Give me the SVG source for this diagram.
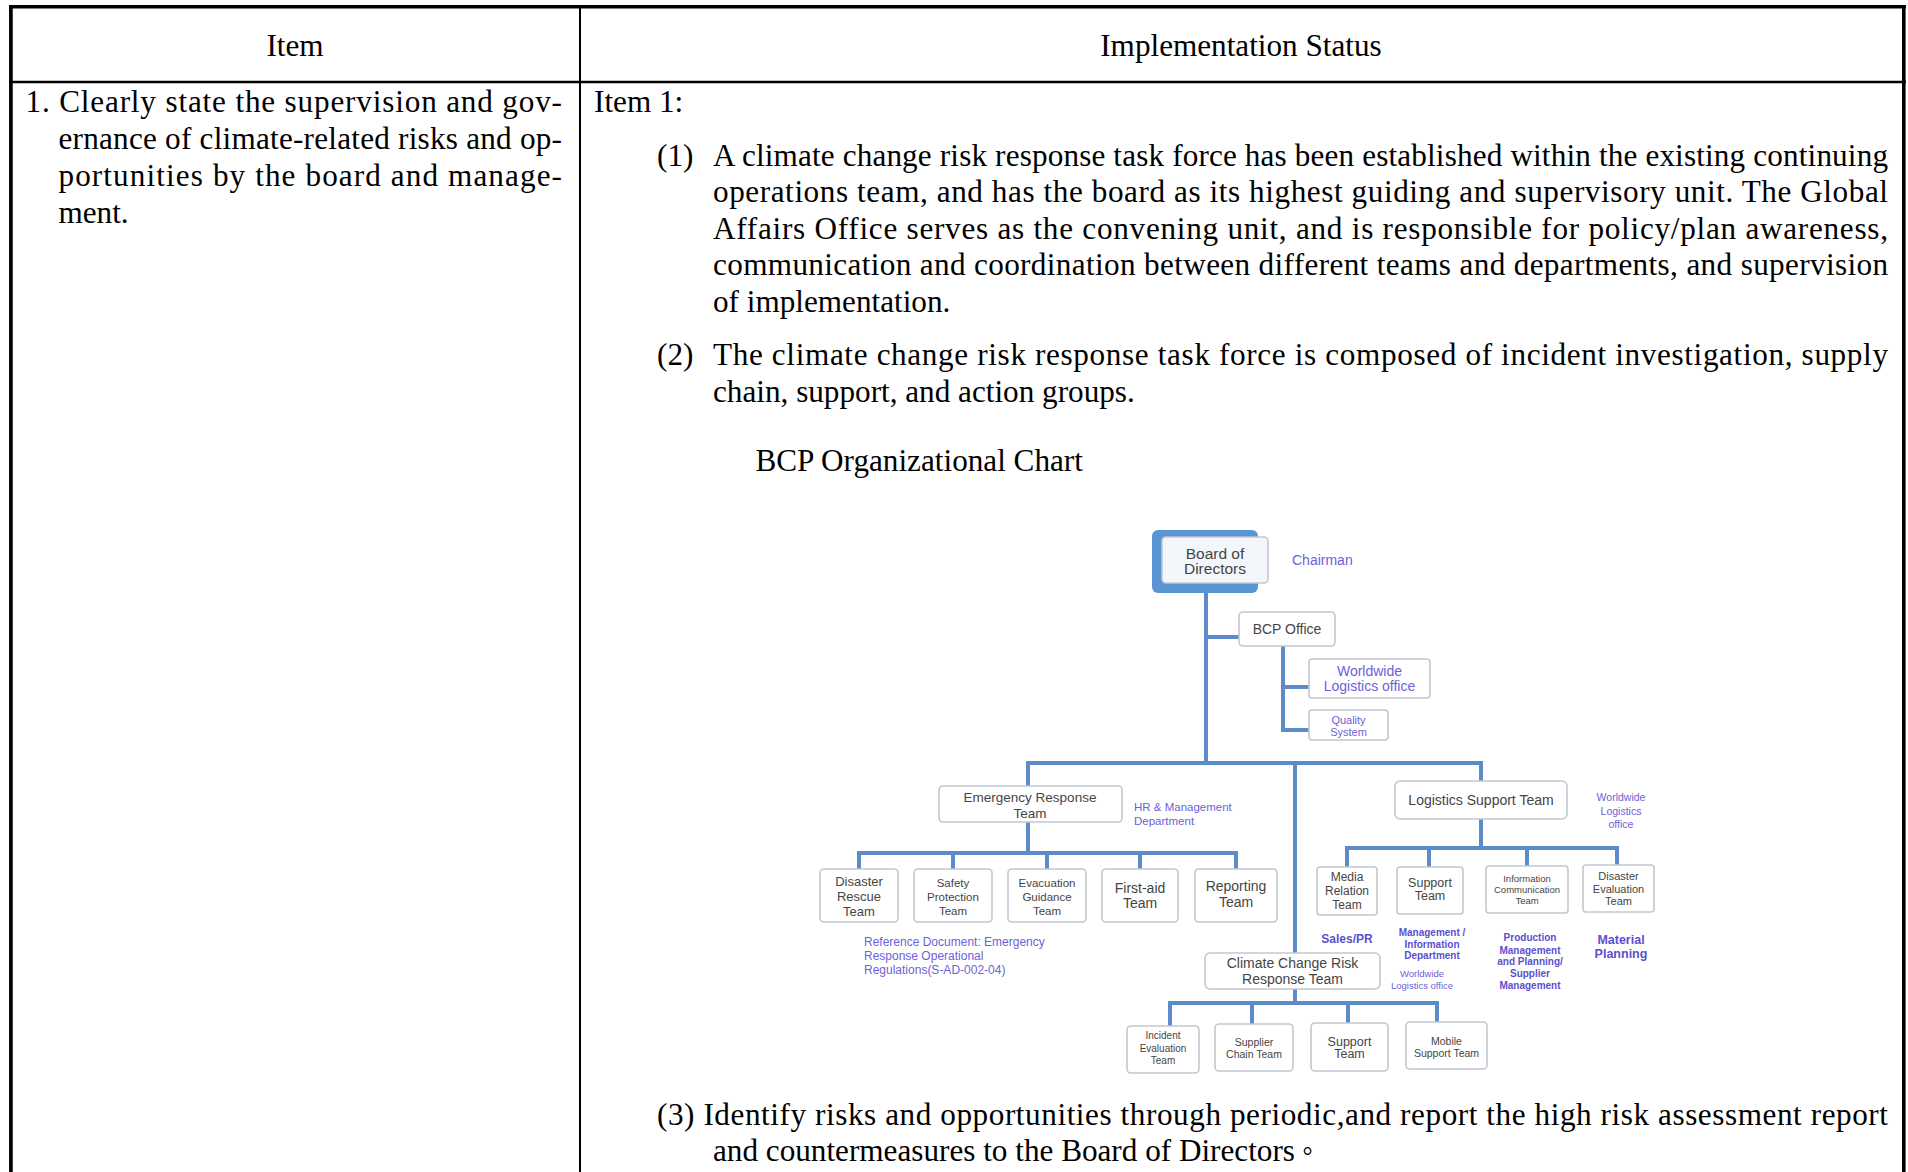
<svg xmlns="http://www.w3.org/2000/svg" width="1908" height="1172" viewBox="0 0 1908 1172">
  <style>
    .body { font-family: "Liberation Serif", "Times New Roman", serif; font-size: 32.5px; fill: #000; }
    .rule { stroke: #000; fill: none; }
    .box { fill: #ffffff; stroke: #c3c8cf; stroke-width: 1.6; }
    .lbl { font-family: "Liberation Sans", Arial, sans-serif; fill: #454545; text-anchor: middle; dominant-baseline: central; }
    .note { font-family: "Liberation Sans", Arial, sans-serif; fill: #6d5fd8; dominant-baseline: central; }
    .noteb { font-family: "Liberation Sans", Arial, sans-serif; fill: #5b4fd0; font-weight: bold; text-anchor: middle; dominant-baseline: central; }
    .link { stroke: #5b8cc9; stroke-width: 4; fill: none; stroke-linecap: butt; }
  </style>

  <rect x="0" y="0" width="1908" height="1172" fill="#ffffff"/>

  <!-- table frame -->
  <g id="table-frame">
    <line class="rule" x1="9" y1="6.8" x2="1906" y2="6.8" stroke-width="3.6"/>
    <line class="rule" x1="10.9" y1="5" x2="10.9" y2="1172" stroke-width="3.7"/>
    <line class="rule" x1="1903.8" y1="5" x2="1903.8" y2="1172" stroke-width="3.6"/>
    <line class="rule" x1="9" y1="82" x2="1906" y2="82" stroke-width="2.4"/>
    <line class="rule" x1="580" y1="6" x2="580" y2="1172" stroke-width="2"/>
  </g>

  <!-- body text is set slightly condensed: x values are divided by 0.96 -->
  <g transform="scale(0.96 1)">
    <g id="header">
      <text class="body" x="307.29" y="56" text-anchor="middle">Item</text>
      <text class="body" x="1292.71" y="56" text-anchor="middle">Implementation Status</text>
    </g>

    <g id="item-column">
      <text class="body" x="26.56" y="112" textLength="558.85" lengthAdjust="spacing">1. Clearly state the supervision and gov-</text>
      <text class="body" x="60.94" y="149" textLength="524.48" lengthAdjust="spacing">ernance of climate-related risks and op-</text>
      <text class="body" x="60.94" y="186" textLength="524.48" lengthAdjust="spacing">portunities by the board and manage-</text>
      <text class="body" x="60.94" y="223">ment.</text>
    </g>

    <g id="status-column">
      <text class="body" x="618.75" y="112">Item 1:</text>

      <text class="body" x="684.38" y="166">(1)</text>
      <text class="body" x="742.71" y="166" textLength="1223.96" lengthAdjust="spacing">A climate change risk response task force has been established within the existing continuing</text>
      <text class="body" x="742.71" y="202" textLength="1223.96" lengthAdjust="spacing">operations team, and has the board as its highest guiding and supervisory unit. The Global</text>
      <text class="body" x="742.71" y="239" textLength="1223.96" lengthAdjust="spacing">Affairs Office serves as the convening unit, and is responsible for policy/plan awareness,</text>
      <text class="body" x="742.71" y="275" textLength="1223.96" lengthAdjust="spacing">communication and coordination between different teams and departments, and supervision</text>
      <text class="body" x="742.71" y="312">of implementation.</text>

      <text class="body" x="684.38" y="365">(2)</text>
      <text class="body" x="742.71" y="365" textLength="1223.96" lengthAdjust="spacing">The climate change risk response task force is composed of incident investigation, supply</text>
      <text class="body" x="742.71" y="402">chain, support, and action groups.</text>

      <text class="body" x="786.98" y="471">BCP Organizational Chart</text>

      <text class="body" x="684.38" y="1125" textLength="1282.29" lengthAdjust="spacing">(3) Identify risks and opportunities through periodic,and report the high risk assessment report</text>
      <text class="body" x="742.71" y="1161">and countermeasures to the Board of Directors<tspan font-family="'Noto Sans CJK TC', sans-serif" font-size="26">。</tspan></text>
    </g>
  </g>

  <!-- connectors -->
  <g id="connectors">
    <path class="link" d="M1206,592 V765"/>
    <path class="link" d="M1206,637 H1239"/>
    <path class="link" d="M1283,646 V732"/>
    <path class="link" d="M1281,687 H1309"/>
    <path class="link" d="M1281,730 H1309"/>
    <path class="link" d="M1026,763 H1483"/>
    <path class="link" d="M1028,761 V786"/>
    <path class="link" d="M1481,761 V781"/>
    <path class="link" d="M1295,761 V953"/>

    <path class="link" d="M1028,821 V853"/>
    <path class="link" d="M857,853 H1238"/>
    <path class="link" d="M859,851 V869 M953,851 V869 M1047,851 V869 M1140,851 V869 M1236,851 V869"/>

    <path class="link" d="M1481,819 V848"/>
    <path class="link" d="M1345,848 H1619"/>
    <path class="link" d="M1347,846 V867 M1429,846 V867 M1527,846 V866 M1617,846 V865"/>

    <path class="link" d="M1295,989 V1003"/>
    <path class="link" d="M1168,1003 H1439"/>
    <path class="link" d="M1170,1001 V1026 M1252,1001 V1024 M1348,1001 V1023 M1437,1001 V1022"/>
  </g>

  <!-- top of the chart -->
  <g id="board">
    <rect x="1152" y="530" width="106" height="63" rx="6" fill="#5a95d3"/>
    <rect x="1162" y="537" width="106" height="46" rx="4" fill="#f3f6fa" stroke="#c3c8cf" stroke-width="1.6"/>
    <text class="lbl" x="1215" y="553" font-size="15.5">Board of</text>
    <text class="lbl" x="1215" y="568" font-size="15.5">Directors</text>
  </g>
  <g id="chairman">
    <text class="note" x="1292" y="560" font-size="14">Chairman</text>
  </g>

  <g id="bcp-office">
    <rect class="box" x="1239" y="612" width="96" height="34" rx="4"/>
    <text class="lbl" x="1287" y="629" font-size="14">BCP Office</text>
  </g>
  <g id="worldwide-logistics-office">
    <rect class="box" x="1309" y="659" width="121" height="39" rx="3"/>
    <text class="note" x="1369.5" y="671" font-size="14" text-anchor="middle">Worldwide</text>
    <text class="note" x="1369.5" y="686" font-size="14" text-anchor="middle">Logistics office</text>
  </g>
  <g id="quality-system">
    <rect class="box" x="1309" y="710" width="79" height="30" rx="3"/>
    <text class="note" x="1348.5" y="720" font-size="11" text-anchor="middle">Quality</text>
    <text class="note" x="1348.5" y="732" font-size="11" text-anchor="middle">System</text>
  </g>

  <!-- emergency response branch -->
  <g id="emergency-response">
    <rect class="box" x="939" y="786" width="183" height="36" rx="4"/>
    <text class="lbl" x="1030" y="797.5" font-size="13.5">Emergency Response</text>
    <text class="lbl" x="1030" y="813" font-size="13.5">Team</text>
  </g>
  <g id="hr-department">
    <text class="note" x="1134" y="807" font-size="11.5">HR &amp; Management</text>
    <text class="note" x="1134" y="821" font-size="11.5">Department</text>
  </g>
  <g id="disaster-rescue">
    <rect class="box" x="820" y="869" width="78" height="53" rx="4"/>
    <text class="lbl" x="859" y="881" font-size="13">Disaster</text>
    <text class="lbl" x="859" y="896" font-size="13">Rescue</text>
    <text class="lbl" x="859" y="911" font-size="13">Team</text>
  </g>
  <g id="safety-protection">
    <rect class="box" x="914" y="869" width="78" height="53" rx="4"/>
    <text class="lbl" x="953" y="883" font-size="11.5">Safety</text>
    <text class="lbl" x="953" y="897" font-size="11.5">Protection</text>
    <text class="lbl" x="953" y="910.5" font-size="11.5">Team</text>
  </g>
  <g id="evacuation-guidance">
    <rect class="box" x="1008" y="869" width="78" height="53" rx="4"/>
    <text class="lbl" x="1047" y="883" font-size="11.5">Evacuation</text>
    <text class="lbl" x="1047" y="897" font-size="11.5">Guidance</text>
    <text class="lbl" x="1047" y="910.5" font-size="11.5">Team</text>
  </g>
  <g id="first-aid">
    <rect class="box" x="1102" y="869" width="76" height="53" rx="4"/>
    <text class="lbl" x="1140" y="888" font-size="14">First-aid</text>
    <text class="lbl" x="1140" y="903" font-size="14">Team</text>
  </g>
  <g id="reporting">
    <rect class="box" x="1195" y="869" width="82" height="53" rx="4"/>
    <text class="lbl" x="1236" y="886" font-size="14">Reporting</text>
    <text class="lbl" x="1236" y="902" font-size="14">Team</text>
  </g>
  <g id="reference-document">
    <text class="note" x="864" y="942" font-size="12">Reference Document: Emergency</text>
    <text class="note" x="864" y="956" font-size="12">Response Operational</text>
    <text class="note" x="864" y="970" font-size="12">Regulations(S-AD-002-04)</text>
  </g>

  <!-- logistics support branch -->
  <g id="logistics-support">
    <rect class="box" x="1395" y="781" width="172" height="38" rx="5"/>
    <text class="lbl" x="1481" y="800" font-size="14">Logistics Support Team</text>
  </g>
  <g id="logistics-owner">
    <text class="note" x="1621" y="797" font-size="10.5" text-anchor="middle">Worldwide</text>
    <text class="note" x="1621" y="810.5" font-size="10.5" text-anchor="middle">Logistics</text>
    <text class="note" x="1621" y="823.5" font-size="10.5" text-anchor="middle">office</text>
  </g>
  <g id="media-relation">
    <rect class="box" x="1317" y="867" width="60" height="48" rx="3"/>
    <text class="lbl" x="1347" y="877" font-size="12">Media</text>
    <text class="lbl" x="1347" y="891" font-size="12">Relation</text>
    <text class="lbl" x="1347" y="905" font-size="12">Team</text>
  </g>
  <g id="logistics-support-team">
    <rect class="box" x="1397" y="867" width="66" height="47" rx="3"/>
    <text class="lbl" x="1430" y="883" font-size="12.5">Support</text>
    <text class="lbl" x="1430" y="896" font-size="12.5">Team</text>
  </g>
  <g id="information-communication">
    <rect class="box" x="1486" y="866" width="82" height="47" rx="3"/>
    <text class="lbl" x="1527" y="878" font-size="9.5">Information</text>
    <text class="lbl" x="1527" y="889" font-size="9.5">Communication</text>
    <text class="lbl" x="1527" y="900" font-size="9.5">Team</text>
  </g>
  <g id="disaster-evaluation">
    <rect class="box" x="1583" y="865" width="71" height="47" rx="3"/>
    <text class="lbl" x="1618.5" y="876" font-size="11">Disaster</text>
    <text class="lbl" x="1618.5" y="888.5" font-size="11">Evaluation</text>
    <text class="lbl" x="1618.5" y="900.5" font-size="11">Team</text>
  </g>
  <g id="sales-pr">
    <text class="noteb" x="1347" y="939" font-size="12">Sales/PR</text>
  </g>
  <g id="management-information">
    <text class="noteb" x="1432" y="932" font-size="10">Management /</text>
    <text class="noteb" x="1432" y="944" font-size="10">Information</text>
    <text class="noteb" x="1432" y="955.5" font-size="10">Department</text>
    <text class="note" x="1422" y="973" font-size="9.5" text-anchor="middle">Worldwide</text>
    <text class="note" x="1422" y="985" font-size="9.5" text-anchor="middle">Logistics office</text>
  </g>
  <g id="production-management">
    <text class="noteb" x="1530" y="937.5" font-size="10">Production</text>
    <text class="noteb" x="1530" y="950" font-size="10">Management</text>
    <text class="noteb" x="1530" y="961.5" font-size="10">and Planning/</text>
    <text class="noteb" x="1530" y="973" font-size="10">Supplier</text>
    <text class="noteb" x="1530" y="985" font-size="10">Management</text>
  </g>
  <g id="material-planning">
    <text class="noteb" x="1621" y="940" font-size="12.5">Material</text>
    <text class="noteb" x="1621" y="953.5" font-size="12.5">Planning</text>
  </g>

  <!-- climate change branch -->
  <g id="climate-change-risk">
    <rect class="box" x="1205" y="953" width="175" height="36" rx="5"/>
    <text class="lbl" x="1292.5" y="963" font-size="14">Climate Change Risk</text>
    <text class="lbl" x="1292.5" y="978.5" font-size="14">Response Team</text>
  </g>
  <g id="incident-evaluation">
    <rect class="box" x="1127" y="1026" width="72" height="47" rx="4"/>
    <text class="lbl" x="1163" y="1035.5" font-size="10">Incident</text>
    <text class="lbl" x="1163" y="1048" font-size="10">Evaluation</text>
    <text class="lbl" x="1163" y="1060.5" font-size="10">Team</text>
  </g>
  <g id="supplier-chain">
    <rect class="box" x="1215" y="1024" width="78" height="47" rx="4"/>
    <text class="lbl" x="1254" y="1042" font-size="10.5">Supplier</text>
    <text class="lbl" x="1254" y="1054" font-size="10.5">Chain Team</text>
  </g>
  <g id="climate-support">
    <rect class="box" x="1311" y="1023" width="77" height="48" rx="4"/>
    <text class="lbl" x="1349.5" y="1042" font-size="12.5">Support</text>
    <text class="lbl" x="1349.5" y="1054" font-size="12.5">Team</text>
  </g>
  <g id="mobile-support">
    <rect class="box" x="1406" y="1022" width="81" height="47" rx="4"/>
    <text class="lbl" x="1446.5" y="1041" font-size="10.5">Mobile</text>
    <text class="lbl" x="1446.5" y="1053" font-size="10.5">Support Team</text>
  </g>
</svg>
